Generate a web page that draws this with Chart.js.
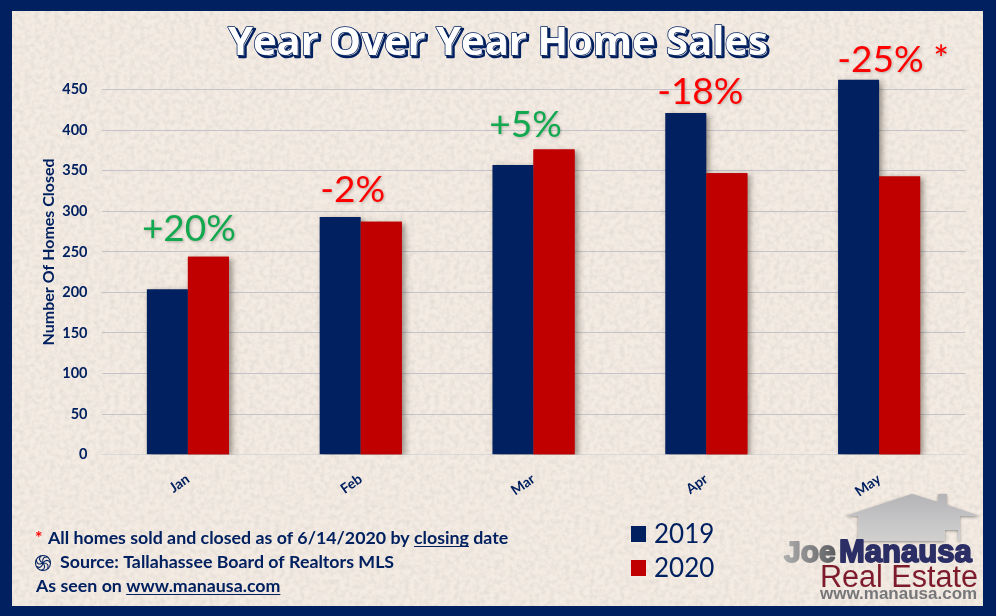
<!DOCTYPE html>
<html>
<head>
<meta charset="utf-8">
<script src="https://cdn.jsdelivr.net/npm/chart.js@4"></script>
<style>
html, body { margin: 0; padding: 0; background: #002060; }
#frame {
    position: relative; width: 996px; height: 616px; box-sizing: border-box;
    border-style: solid; border-color: #002060; border-width: 11px 13px 10px 12px;
    background-color: #f1e8df;
    background-position: -12px -11px;
    background-image: url("data:image/svg+xml,%3Csvg xmlns='http://www.w3.org/2000/svg' width='320' height='320'%3E%3Cfilter id='n' x='0' y='0' width='100%25' height='100%25'%3E%3CfeTurbulence type='fractalNoise' baseFrequency='.2' numOctaves='4' stitchTiles='stitch' seed='4'/%3E%3CfeColorMatrix values='0 0 0 0 .76 0 0 0 0 .72 0 0 0 0 .67 0 0 0 1.9 -.72'/%3E%3C/filter%3E%3Crect width='320' height='320' fill='%23f4ebe2'/%3E%3Crect width='320' height='320' filter='url(%23n)'/%3E%3C/svg%3E");
}
#homeSales { position: absolute; left: -12px; top: -11px; }
</style>
</head>
<body>
<div id="frame"><canvas id="homeSales" width="996" height="616"></canvas></div>
<script>
const categories = ['Jan', 'Feb', 'Mar', 'Apr', 'May'];
const sales2019 = [204, 293, 357, 421, 462];
const sales2020 = [244, 287, 376, 347, 343];
const changeLabels = ['+20%', '-2%', '+5%', '-18%', '-25% *'];
const yTicksShown = 450;

const NAVY = '#002060';
const RED = '#c00000';
const GREEN = '#12a84f';
const BRIGHT_RED = '#ff0000';
const BODY_FONT = 'Lato, Carlito, sans-serif';

// label placement relative to the bars, [dx, dy]
const changeNudge = [[1, -28], [-8, -27], [-8, -25], [-6, -21], [14, -20]];

function drawTitle(ctx) {
    const text = 'Year Over Year Home Sales';
    ctx.save();
    ctx.font = 'bold 40px "Open Sans", sans-serif';
    ctx.textAlign = 'center';
    ctx.textBaseline = 'middle';
    ctx.lineJoin = 'round';
    ctx.strokeStyle = NAVY;
    ctx.fillStyle = NAVY;
    ctx.lineWidth = 2.5;
    ctx.strokeText(text, 500, 46);
    ctx.lineWidth = 1.5;
    ctx.strokeText(text, 498, 44);
    ctx.fillStyle = '#ffffff';
    ctx.fillText(text, 498, 44);
    ctx.restore();
}

function drawChangeLabels(chart) {
    const ctx = chart.ctx, x = chart.scales.x, y = chart.scales.y;
    ctx.save();
    ctx.font = '37px ' + BODY_FONT;
    ctx.textAlign = 'center';
    ctx.textBaseline = 'middle';
    ctx.shadowColor = 'rgba(0,0,0,0.25)';
    ctx.shadowBlur = 3;
    ctx.shadowOffsetX = 1;
    ctx.shadowOffsetY = 1;
    changeLabels.forEach((label, i) => {
        const top = Math.max(sales2019[i], sales2020[i]);
        ctx.fillStyle = label.startsWith('+') ? GREEN : BRIGHT_RED;
        ctx.fillText(label, x.getPixelForValue(i) + changeNudge[i][0], y.getPixelForValue(top) + changeNudge[i][1]);
    });
    ctx.restore();
}

function drawUnderlined(ctx, text, x, y) {
    ctx.fillText(text, x, y);
    const w = ctx.measureText(text).width;
    ctx.fillRect(x, y + 2, w, 1);
    return x + w;
}

function drawSwirl(ctx, cx, cy, r) {
    ctx.save();
    ctx.strokeStyle = NAVY;
    ctx.lineWidth = 1.1;
    ctx.beginPath();
    ctx.arc(cx, cy, r, 0, Math.PI * 2);
    ctx.stroke();
    for (let i = 0; i < 7; i++) {
        const a = i * Math.PI * 2 / 7;
        ctx.beginPath();
        ctx.moveTo(cx, cy);
        ctx.quadraticCurveTo(cx + Math.cos(a) * r * 0.9, cy + Math.sin(a) * r * 0.9,
            cx + Math.cos(a + 0.9) * r, cy + Math.sin(a + 0.9) * r);
        ctx.stroke();
    }
    ctx.restore();
}

function drawFootnotes(ctx) {
    ctx.save();
    ctx.font = 'bold 17.8px ' + BODY_FONT;
    ctx.textBaseline = 'alphabetic';
    ctx.fillStyle = BRIGHT_RED;
    ctx.fillText('*', 35, 544);
    ctx.fillStyle = NAVY;
    let x = 48;
    const lead = 'All homes sold and closed as of 6/14/2020 by ';
    ctx.fillText(lead, x, 544);
    x += ctx.measureText(lead).width;
    x = drawUnderlined(ctx, 'closing', x, 544);
    ctx.fillText(' date', x, 544);

    drawSwirl(ctx, 43, 563, 7.5);
    ctx.fillText('Source: Tallahassee Board of Realtors MLS', 60, 568);

    ctx.fillText('As seen on ', 36, 592);
    drawUnderlined(ctx, 'www.manausa.com', 36 + ctx.measureText('As seen on ').width, 592);
    ctx.restore();
}

function drawLegend(chart) {
    const ctx = chart.ctx;
    ctx.save();
    ctx.font = '26px ' + BODY_FONT;
    ctx.textBaseline = 'middle';
    chart.data.datasets.forEach((ds, i) => {
        const top = 526 + i * 34;
        ctx.fillStyle = ds.backgroundColor;
        ctx.fillRect(631, top, 15, 16);
        ctx.fillStyle = NAVY;
        ctx.fillText(ds.label, 654, top + 9);
    });
    ctx.restore();
}

function drawLogo(ctx) {
    ctx.save();
    // house, fading out towards the wordmark
    const houseGrad = ctx.createLinearGradient(0, 494, 0, 541);
    houseGrad.addColorStop(0, '#b4b4b6');
    houseGrad.addColorStop(0.6, '#c6c6c8');
    houseGrad.addColorStop(1, '#d2d0ce');
    ctx.fillStyle = houseGrad;
    ctx.shadowColor = 'rgba(0,0,0,0.4)';
    ctx.shadowBlur = 3;
    ctx.shadowOffsetY = 1;
    ctx.beginPath();
    ctx.moveTo(845, 516);
    ctx.lineTo(912, 494);
    ctx.lineTo(938, 502);
    ctx.lineTo(938, 494);
    ctx.lineTo(947, 494);
    ctx.lineTo(947, 505);
    ctx.lineTo(980, 516);
    ctx.lineTo(960, 516);
    ctx.lineTo(960, 541);
    ctx.lineTo(958, 541);
    ctx.lineTo(958, 530);
    ctx.lineTo(945, 530);
    ctx.lineTo(945, 541);
    ctx.lineTo(858, 541);
    ctx.lineTo(858, 516);
    ctx.closePath();
    ctx.fill();
    ctx.shadowColor = 'transparent';

    ctx.textBaseline = 'alphabetic';
    ctx.lineWidth = 1.8;
    ctx.lineJoin = 'round';
    const grad = ctx.createLinearGradient(783, 0, 840, 0);
    grad.addColorStop(0, '#b0b0b0');
    grad.addColorStop(1, '#55565a');
    ctx.fillStyle = grad;
    ctx.strokeStyle = grad;
    ctx.font = 'bold 30px "Liberation Sans", sans-serif';
    ctx.strokeText('Joe', 784, 562, 55);
    ctx.fillText('Joe', 784, 562, 55);
    ctx.fillStyle = '#2c2f66';
    ctx.strokeStyle = '#2c2f66';
    ctx.font = 'bold 31px "Liberation Sans", sans-serif';
    ctx.strokeText('Manausa', 839, 562, 138);
    ctx.fillText('Manausa', 839, 562, 138);

    ctx.fillStyle = '#7d1a2b';
    ctx.font = '31px "Liberation Sans", sans-serif';
    ctx.fillText('Real Estate', 820, 587, 158);
    ctx.fillStyle = '#77777b';
    ctx.font = 'bold 17px "Liberation Sans", sans-serif';
    ctx.fillText('www.manausa.com', 820, 599, 158);
    ctx.restore();
}

const posterPlugin = {
    id: 'poster',
    beforeDatasetDraw(chart) {
        const ctx = chart.ctx;
        ctx.save();
        ctx.shadowColor = 'rgba(60,50,40,0.5)';
        ctx.shadowBlur = 6;
        ctx.shadowOffsetX = 3;
        ctx.shadowOffsetY = 2;
    },
    afterDatasetDraw(chart, args) {
        const ctx = chart.ctx;
        ctx.restore();
        // 2019 paints last, so put the 2020 bars back over its shadow
        if (args.index === 0) {
            chart.getDatasetMeta(1).data.forEach(bar => bar.draw(ctx));
        }
    },
    afterDraw(chart) {
        const ctx = chart.ctx;
        drawTitle(ctx);
        drawChangeLabels(chart);
        drawFootnotes(ctx);
        drawLegend(chart);
        drawLogo(ctx);
    }
};

new Chart(document.getElementById('homeSales').getContext('2d'), {
    type: 'bar',
    data: {
        labels: categories,
        datasets: [
            { label: '2019', data: sales2019, backgroundColor: NAVY, barPercentage: 1, categoryPercentage: 0.475 },
            { label: '2020', data: sales2020, backgroundColor: RED, barPercentage: 1, categoryPercentage: 0.475 }
        ]
    },
    options: {
        responsive: false,
        animation: false,
        layout: { padding: { top: 49, right: 30.5, bottom: 0, left: 0 } },
        plugins: {
            legend: { display: false },
            title: { display: false },
            tooltip: { enabled: false }
        },
        scales: {
            x: {
                afterFit(scale) { scale.height = 161.3; },
                grid: { display: false, drawTicks: false },
                border: { display: true, color: '#d9d9d9', width: 1 },
                ticks: {
                    color: NAVY,
                    font: { family: BODY_FONT, size: 14, weight: 'bold' },
                    minRotation: 35,
                    maxRotation: 35,
                    padding: 16
                }
            },
            y: {
                min: 0,
                max: 500,
                afterFit(scale) { scale.width = 101.5; },
                afterBuildTicks(scale) { scale.ticks = scale.ticks.filter(t => t.value <= yTicksShown); },
                grid: { color: '#c4c3c8', lineWidth: 1, drawTicks: false },
                border: { display: false },
                title: {
                    display: true,
                    text: 'Number Of Homes Closed',
                    color: NAVY,
                    font: { family: BODY_FONT, size: 16, weight: 'bold' },
                    padding: { top: 39, bottom: 0 }
                },
                ticks: {
                    stepSize: 50,
                    color: NAVY,
                    font: { family: BODY_FONT, size: 14.5, weight: 'bold' },
                    padding: 14
                }
            }
        }
    },
    plugins: [posterPlugin]
});
</script>
</body>
</html>
